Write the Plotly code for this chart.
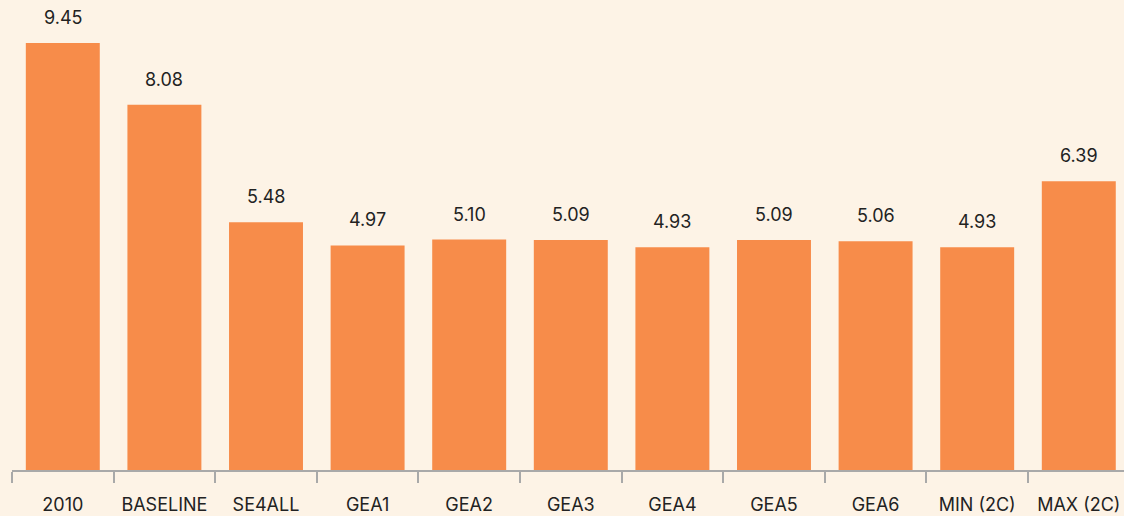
import plotly.graph_objects as go

# Scenario categories and their values
categories = ["2010", "BASELINE", "SE4ALL", "GEA1", "GEA2", "GEA3",
              "GEA4", "GEA5", "GEA6", "MIN (2C)", "MAX (2C)"]
values = [9.45, 8.08, 5.48, 4.97, 5.10, 5.09, 4.93, 5.09, 5.06, 4.93, 6.39]
value_labels = ["9.45", "8.08", "5.48", "4.97", "5.10", "5.09",
                "4.93", "5.09", "5.06", "4.93", "6.39"]

BG = "#FDF3E6"
BAR = "#F78C4A"
AXIS = "#A9A9A9"
TEXT = "#222222"
FONT = "Inter"

fig = go.Figure(
    go.Bar(
        x=categories,
        y=values,
        marker=dict(color=BAR, line=dict(width=0)),
        hoverinfo="skip",
    )
)

# Value labels above each bar (x given as category index so "2010" stays a category)
for i, (val, lab) in enumerate(zip(values, value_labels)):
    fig.add_annotation(
        x=i, y=val, xref="x", yref="y", text=lab, showarrow=False,
        yanchor="bottom", yshift=13,
        font=dict(family=FONT, size=18, color=TEXT),
    )

fig.update_layout(
    width=1124,
    height=516,
    margin=dict(l=12, r=0, t=0, b=46),
    paper_bgcolor=BG,
    plot_bgcolor=BG,
    bargap=0.272,
    showlegend=False,
    xaxis=dict(
        type="category",
        range=[-0.5, 10.445],
        showline=True,
        linecolor=AXIS,
        linewidth=2,
        ticks="outside",
        tickson="boundaries",
        ticklen=11,
        tickwidth=2,
        tickcolor=AXIS,
        showgrid=False,
        zeroline=False,
        tickfont=dict(family=FONT, size=18, color=TEXT),
        ticklabelstandoff=17,
    ),
    yaxis=dict(
        range=[0, 10.40],
        visible=False,
        showgrid=False,
        zeroline=False,
    ),
)

fig.write_html("out.html")
